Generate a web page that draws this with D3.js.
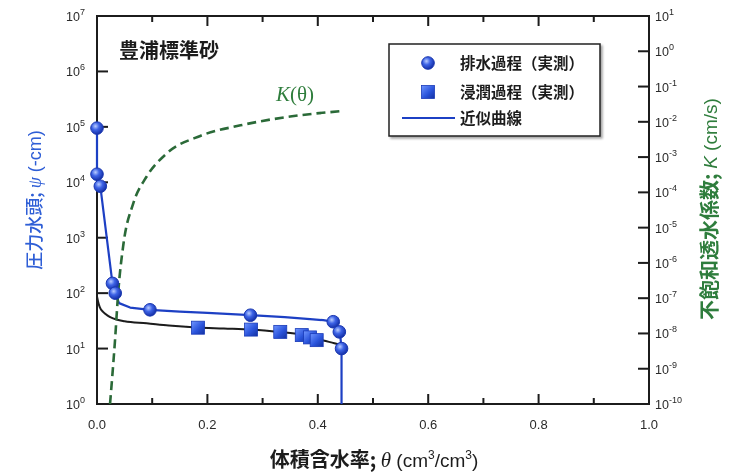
<!DOCTYPE html>
<html><head><meta charset="utf-8">
<script src="https://cdn.jsdelivr.net/npm/d3@7"></script>
<style>
html,body{margin:0;padding:0;background:#fff;}
svg{display:block;}
</style></head>
<body>
<svg id="chart" width="731" height="476"></svg>
<script>
// --- data ---------------------------------------------------------------
// drainage (measured): [theta, psi]
const drainTheta = [0.0, 0.0, 0.006, 0.028, 0.033, 0.096, 0.278, 0.428, 0.439, 0.443];
const drainPsi   = [9.5e4, 1.4e4, 8.5e3, 150, 100, 50, 40, 30.5, 20, 10];
// wetting (measured): [theta, psi]
const wetTheta = [0.183, 0.279, 0.332, 0.371, 0.386, 0.398];
const wetPsi   = [23.8, 22, 20, 17.5, 15.9, 14.2];
// fitted drainage curve
const fitDrainTheta = [0.0, 0.0, 0.006, 0.028, 0.033, 0.04, 0.06, 0.096, 0.15, 0.2, 0.278, 0.34, 0.386, 0.41, 0.428, 0.436, 0.44, 0.443, 0.443];
const fitDrainPsi   = [1.2e5, 1.4e4, 8.5e3, 150, 100, 66, 55, 50, 46.5, 44, 40, 37, 34, 32.5, 30.5, 25, 20, 10, 1];
// fitted wetting curve
const fitWetTheta = [0.0, 0.002, 0.005, 0.011, 0.02, 0.029, 0.05, 0.09, 0.13, 0.18, 0.23, 0.28, 0.33, 0.37, 0.392, 0.41, 0.43, 0.443];
const fitWetPsi   = [87, 70, 56, 46, 39, 35, 31, 28.5, 26, 24, 23, 22, 20, 18, 15.8, 14, 12.5, 11.5];
// unsaturated hydraulic conductivity K(theta), log10 values
const kTheta = [0.0236, 0.0326, 0.0386, 0.0476, 0.066, 0.09, 0.126, 0.187, 0.26, 0.35, 0.44];
const kLog   = [-10, -8.2, -6.8, -5.5, -4.3, -3.55, -2.9, -2.4, -2.1, -1.85, -1.7];

const xTicks = [0, 0.1, 0.2, 0.3, 0.4, 0.5, 0.6, 0.7, 0.8, 0.9, 1.0];
const xTickLabels = ["0.0", "0.2", "0.4", "0.6", "0.8", "1.0"];
const leftExps  = [0, 1, 2, 3, 4, 5, 6, 7];
const rightExps = [-10, -9, -8, -7, -6, -5, -4, -3, -2, -1, 0, 1];

const legendLabels = ["排水過程（実測）", "浸潤過程（実測）", "近似曲線"];
const titleText = "豊浦標準砂";

// --- layout -------------------------------------------------------------
const L = 97, R = 649, T = 16, B = 404;
const blue = "#1f3fc4", blueText = "#2f5ed6", green = "#2f7d3c", ink = "#1b1b1b";

const svg = d3.select("#chart");
const x = d3.scaleLinear().domain([0, 1]).range([L, R]);
const yL = d3.scaleLog().domain([1, 1e7]).range([B, T]);
const yR = d3.scaleLog().domain([1e-10, 10]).range([B, T]);

// gradients for the shiny markers
const defs = svg.append("defs");
const rg = defs.append("radialGradient").attr("id", "ball").attr("cx", "38%").attr("cy", "35%").attr("r", "65%");
rg.append("stop").attr("offset", "0%").attr("stop-color", "#b9ccff");
rg.append("stop").attr("offset", "45%").attr("stop-color", "#3d63e6");
rg.append("stop").attr("offset", "100%").attr("stop-color", "#1530a8");
const lg = defs.append("linearGradient").attr("id", "cube").attr("x1", "0").attr("y1", "0").attr("x2", "1").attr("y2", "1");
lg.append("stop").attr("offset", "0%").attr("stop-color", "#6f95ff");
lg.append("stop").attr("offset", "55%").attr("stop-color", "#2b55dc");
lg.append("stop").attr("offset", "100%").attr("stop-color", "#1430a0");
const sh = defs.append("filter").attr("id", "shadow").attr("x", "-10%").attr("y", "-10%").attr("width", "130%").attr("height", "130%");
sh.append("feDropShadow").attr("dx", 2).attr("dy", 2).attr("stdDeviation", 1.2).attr("flood-color", "#000").attr("flood-opacity", 0.35);
const soft = defs.append("filter").attr("id", "soft");
soft.append("feGaussianBlur").attr("stdDeviation", 0.35);

const root = svg.append("g").attr("filter", "url(#soft)");

// --- axes ---------------------------------------------------------------
const fontNum = "'Liberation Sans', Arial, sans-serif";

const axisG = root.append("g").attr("stroke", ink).attr("fill", "none");
// frame
axisG.append("rect").attr("x", L).attr("y", T).attr("width", R - L).attr("height", B - T).attr("stroke-width", 2);

// x ticks, inward at bottom and top
xTicks.forEach((v, i) => {
  const len = (i % 2 === 0) ? 10 : 6;
  axisG.append("line").attr("x1", x(v)).attr("x2", x(v)).attr("y1", B).attr("y2", B - len).attr("stroke-width", 2);
  if (i > 0 && i < xTicks.length - 1)
    axisG.append("line").attr("x1", x(v)).attr("x2", x(v)).attr("y1", T).attr("y2", T + len).attr("stroke-width", 2);
});
// left ticks
leftExps.forEach(e => {
  if (e > 0 && e < 7)
    axisG.append("line").attr("x1", L).attr("x2", L + 11).attr("y1", yL(Math.pow(10, e))).attr("y2", yL(Math.pow(10, e))).attr("stroke-width", 2);
});
// right ticks
rightExps.forEach(e => {
  if (e > -10 && e < 1)
    axisG.append("line").attr("x1", R).attr("x2", R - 11).attr("y1", yR(Math.pow(10, e))).attr("y2", yR(Math.pow(10, e))).attr("stroke-width", 2);
});

// x tick labels
const xl = root.append("g").attr("font-family", fontNum).attr("font-size", 13).attr("fill", "#2a2a2a").attr("text-anchor", "middle");
xTickLabels.forEach(t => {
  xl.append("text").attr("x", x(+t)).attr("y", B + 25).text(t);
});

// power-of-ten labels
function powLabel(g, px, py, exp, anchor) {
  const t = g.append("text").attr("x", px).attr("y", py + 5).attr("text-anchor", anchor)
    .attr("font-family", fontNum).attr("font-size", 12.5).attr("fill", "#2a2a2a");
  t.append("tspan").text("10");
  t.append("tspan").attr("dy", -6).attr("font-size", 9).text(String(exp));
}
const yl = root.append("g");
leftExps.forEach(e => powLabel(yl, L - 12, yL(Math.pow(10, e)), e, "end"));
rightExps.forEach(e => powLabel(yl, R + 6, yR(Math.pow(10, e)), e, "start"));

// --- curves -------------------------------------------------------------
const lineR = d3.line().x(d => x(d[0])).y(d => yR(Math.pow(10, d[1]))).curve(d3.curveMonotoneX);

root.append("path").datum(fitWetTheta.map((t, i) => [t, fitWetPsi[i]]))
  .attr("d", d3.line().x(d => x(d[0])).y(d => yL(d[1])).curve(d3.curveMonotoneX))
  .attr("fill", "none").attr("stroke", ink).attr("stroke-width", 2);

root.append("path").datum(fitDrainTheta.map((t, i) => [t, fitDrainPsi[i]]))
  .attr("d", d3.line().x(d => x(d[0])).y(d => yL(d[1]))).attr("fill", "none").attr("stroke", blue).attr("stroke-width", 2.2)
  .attr("stroke-linejoin", "round");

root.append("path").datum(kTheta.map((t, i) => [t, kLog[i]]))
  .attr("d", lineR).attr("fill", "none").attr("stroke", "#2c6a38").attr("stroke-width", 2.6)
  .attr("stroke-dasharray", "9,5");

// markers
root.append("g").selectAll("rect").data(wetTheta.map((t, i) => [t, wetPsi[i]])).join("rect")
  .attr("x", d => x(d[0]) - 6.5).attr("y", d => yL(d[1]) - 6.5).attr("width", 13).attr("height", 13)
  .attr("fill", "url(#cube)").attr("stroke", "#1a3bb8").attr("stroke-width", 0.8);

root.append("g").selectAll("circle").data(drainTheta.map((t, i) => [t, drainPsi[i]])).join("circle")
  .attr("cx", d => x(d[0])).attr("cy", d => yL(d[1])).attr("r", 6.3)
  .attr("fill", "url(#ball)").attr("stroke", "#1a37b0").attr("stroke-width", 1);

// --- annotations --------------------------------------------------------
const cjk = "'Noto Sans CJK JP', 'Noto Sans', sans-serif";
root.append("text").attr("x", 119).attr("y", 58).attr("font-family", cjk).attr("font-weight", 700)
  .attr("font-size", 20).attr("fill", "#1e1e1e").text(titleText);

const kl = root.append("text").attr("x", 276).attr("y", 101).attr("font-family", "'Liberation Serif', 'DejaVu Serif', serif")
  .attr("font-size", 21).attr("fill", green);
kl.append("tspan").attr("font-style", "italic").text("K");
kl.append("tspan").text("(θ)");

// legend
const lgG = root.append("g");
lgG.append("rect").attr("x", 389).attr("y", 44).attr("width", 211).attr("height", 92)
  .attr("fill", "#fff").attr("stroke", "#222").attr("stroke-width", 1.5).attr("filter", "url(#shadow)");
const rowY = [63, 92, 118];
lgG.append("circle").attr("cx", 428).attr("cy", rowY[0]).attr("r", 6.3).attr("fill", "url(#ball)").attr("stroke", "#1a37b0");
lgG.append("rect").attr("x", 421.5).attr("y", rowY[1] - 6.5).attr("width", 13).attr("height", 13).attr("fill", "url(#cube)").attr("stroke", "#1a3bb8").attr("stroke-width", 0.8);
lgG.append("line").attr("x1", 402).attr("x2", 455).attr("y1", rowY[2]).attr("y2", rowY[2]).attr("stroke", blue).attr("stroke-width", 2.2);
legendLabels.forEach((t, i) => {
  lgG.append("text").attr("x", 460).attr("y", rowY[i] + 5.5).attr("font-family", cjk).attr("font-weight", 700)
    .attr("font-size", 15.5).attr("fill", "#1e1e1e").text(t);
});

// axis titles
const xt = root.append("text").attr("x", 374).attr("y", 467).attr("text-anchor", "middle")
  .attr("font-family", cjk).attr("font-weight", 700).attr("font-size", 20).attr("fill", "#1e1e1e");
xt.append("tspan").text("体積含水率; ");
xt.append("tspan").attr("font-family", "'Liberation Serif', serif").attr("font-style", "italic").attr("font-weight", 400).attr("font-size", 21).text("θ");
xt.append("tspan").attr("font-family", fontNum).attr("font-weight", 400).attr("font-size", 19).text(" (cm");
xt.append("tspan").attr("font-family", fontNum).attr("font-weight", 400).attr("font-size", 12).attr("dy", -8).text("3");
xt.append("tspan").attr("font-family", fontNum).attr("font-weight", 400).attr("font-size", 19).attr("dy", 8).text("/cm");
xt.append("tspan").attr("font-family", fontNum).attr("font-weight", 400).attr("font-size", 12).attr("dy", -8).text("3");
xt.append("tspan").attr("font-family", fontNum).attr("font-weight", 400).attr("font-size", 19).attr("dy", 8).text(")");

const ytL = root.append("text").attr("transform", "translate(41,200) rotate(-90)").attr("text-anchor", "middle")
  .attr("font-family", cjk).attr("font-weight", 500).attr("font-size", 18).attr("fill", blueText);
ytL.append("tspan").text("圧力水頭; ");
ytL.append("tspan").attr("font-family", "'Liberation Serif', serif").attr("font-style", "italic").attr("font-weight", 400).text("ψ");
ytL.append("tspan").attr("font-family", fontNum).attr("font-weight", 400).text(" (-cm)");

const ytR = root.append("text").attr("transform", "translate(717,209) rotate(-90)").attr("text-anchor", "middle")
  .attr("font-family", cjk).attr("font-weight", 700).attr("font-size", 20).attr("fill", green);
ytR.append("tspan").text("不飽和透水係数; ");
ytR.append("tspan").attr("font-family", fontNum).attr("font-style", "italic").attr("font-weight", 400).attr("font-size", 19).text("K");
ytR.append("tspan").attr("font-family", fontNum).attr("font-weight", 400).attr("font-size", 19).text(" (cm/s)");
</script>
</body></html>
